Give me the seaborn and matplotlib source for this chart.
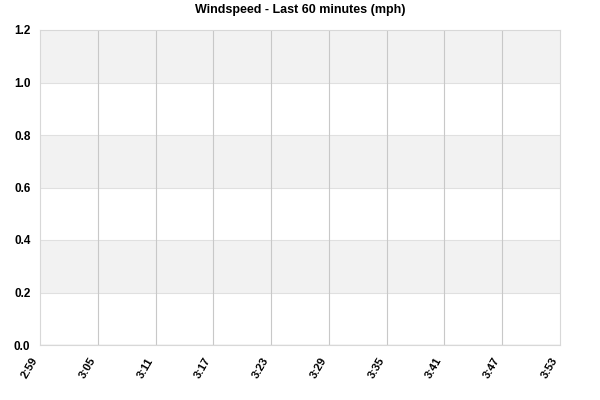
import matplotlib
matplotlib.use("Agg")
import matplotlib.pyplot as plt
import matplotlib.transforms as mtransforms
import seaborn as sns
import pandas as pd

# --- data (wind was calm: every reading is 0 mph) ---
minutes = [0, 6, 12, 18, 24, 30, 36, 42, 48, 54]
tick_labels = ["2:59", "3:05", "3:11", "3:17", "3:23", "3:29", "3:35", "3:41", "3:47", "3:53"]
windspeed = [0.0, 0.0, 0.0, 0.0, 0.0, 0.0, 0.0, 0.0, 0.0, 0.0]
y_ticks = [0.0, 0.2, 0.4, 0.6, 0.8, 1.0, 1.2]

df = pd.DataFrame({"minute": minutes, "mph": windspeed})

sns.set_theme(style="white")
plt.rcParams["font.family"] = ["Liberation Sans", "DejaVu Sans"]

fig = plt.figure(figsize=(6, 4), dpi=100)
ax = fig.add_axes([0.067, 0.1375, 0.866, 0.7875])

# alternating grey bands behind the plot
for i in range(len(y_ticks) - 1):
    if i % 2 == 1:
        ax.axhspan(y_ticks[i], y_ticks[i + 1], color="#f2f2f2", zorder=0, lw=0)
for y in y_ticks[1:-1]:
    ax.axhline(y, color="#e0e0e0", lw=0.8, zorder=1)
for x in minutes[1:-1]:
    ax.axvline(x, color="#c8c8c8", lw=0.8, zorder=1)

sns.lineplot(data=df, x="minute", y="mph", ax=ax, color="#d0d0d0", lw=1, zorder=2)

ax.set_xlim(minutes[0], minutes[-1])
ax.set_ylim(y_ticks[0], y_ticks[-1])
ax.set_xticks(minutes)
ax.set_xticklabels(tick_labels, rotation=60, ha="right", rotation_mode="anchor",
                   fontsize=8, fontweight="bold", color="black")
ax.set_yticks(y_ticks)
ax.set_yticklabels([f"{v:.1f}" for v in y_ticks], fontsize=8.5, fontweight="bold", color="black")
ax.tick_params(axis="x", length=0, pad=8)
ax.tick_params(axis="y", length=0, pad=7)
ax.set_xlabel("")
ax.set_ylabel("")
for s in ax.spines.values():
    s.set_color("#d8d8d8")
    s.set_linewidth(0.8)

# nudge the slanted labels left so they end just before their tick
shift = mtransforms.ScaledTranslation(-0.09, 0.0, fig.dpi_scale_trans)
for lab in ax.get_xticklabels():
    lab.set_transform(lab.get_transform() + shift)

ax.set_title("Windspeed - Last 60 minutes (mph)", fontsize=9, fontweight="bold",
             pad=12, color="black")

fig.savefig("out.png", dpi=100)
